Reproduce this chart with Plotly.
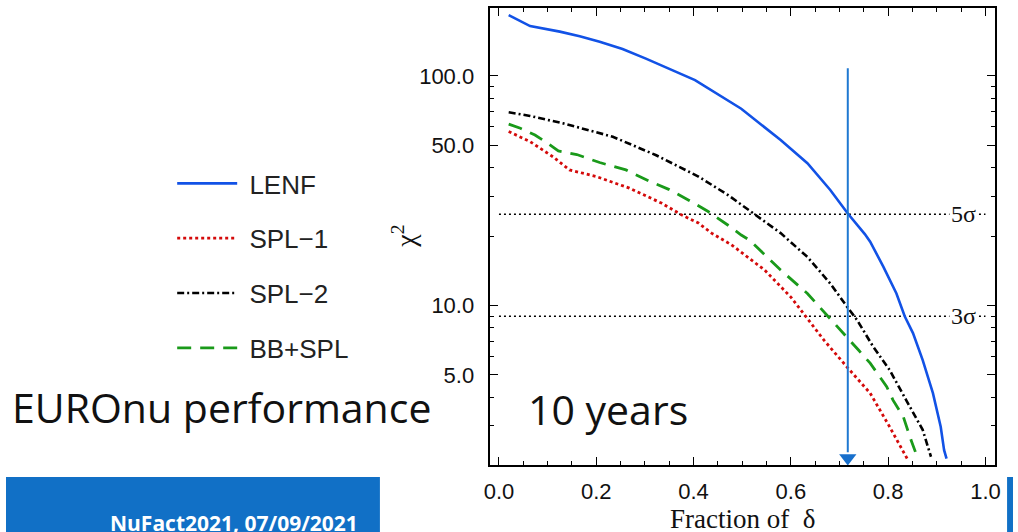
import numpy as np
import plotly.graph_objects as go

W, H = 1018, 532

# ---------------- data ----------------
lenf_x = [0.020, 0.064, 0.125, 0.166, 0.207, 0.254, 0.302, 0.349, 0.403, 0.498,
          0.579, 0.634, 0.681, 0.717, 0.742, 0.752, 0.763, 0.790, 0.817, 0.834,
          0.851, 0.871, 0.892, 0.908, 0.915, 0.920]
lenf_y = [184, 165, 156, 149, 141, 131, 119, 108, 96, 72,
          52.6, 41.7, 31.9, 25.2, 21.8, 20.5, 19.0, 14.8, 11.3, 9.0,
          7.6, 5.8, 4.16, 2.97, 2.35, 2.16]

spl1_x = [0.020, 0.064, 0.111, 0.145, 0.200, 0.268, 0.335, 0.376, 0.410, 0.437,
          0.478, 0.529, 0.546, 0.600, 0.630, 0.668, 0.715, 0.763, 0.803, 0.839]
spl1_y = [57.3, 51.8, 44.5, 39.0, 36.5, 32.5, 27.9, 24.8, 22.9, 20.7,
          18.4, 15.3, 14.3, 10.9, 9.0, 7.08, 5.42, 4.16, 2.97, 2.16]

spl2_x = [0.020, 0.064, 0.132, 0.234, 0.322, 0.369, 0.410, 0.471, 0.527, 0.579,
          0.634, 0.681, 0.715, 0.736, 0.769, 0.803, 0.837, 0.871, 0.888]
spl2_y = [69.5, 67.0, 62.2, 54.4, 45.3, 40.3, 36.5, 30.3, 24.9, 20.7,
          16.3, 12.5, 9.93, 8.67, 6.64, 5.25, 3.88, 2.88, 2.2]

bbspl_x = [0.020, 0.044, 0.074, 0.095, 0.122, 0.160, 0.207, 0.261, 0.308, 0.349,
           0.390, 0.430, 0.471, 0.498, 0.515, 0.579, 0.634, 0.678, 0.715, 0.739,
           0.763, 0.797, 0.810, 0.831, 0.847, 0.856]
bbspl_y = [61.7, 59.2, 55.3, 51.8, 47.2, 45.5, 42.0, 39.0, 34.9, 32.1,
           28.8, 25.7, 22.4, 20.3, 19.3, 14.3, 11.3, 8.95, 7.33, 6.41,
           5.62, 4.44, 3.88, 3.29, 2.60, 2.31]

series_names = ["LENF", "SPL\u22121", "SPL\u22122", "BB+SPL"]

sigma_levels = [25, 9]
sigma_labels = ["5\u03c3", "3\u03c3"]
sigma_x_range = [0.0, 1.0]

arrow_x = 0.717
arrow_y = [108, 2.3]
arrow_head_y = 2.17

x_tickvals = [0.0, 0.2, 0.4, 0.6, 0.8, 1.0]
x_ticktext = ["0.0", "0.2", "0.4", "0.6", "0.8", "1.0"]
y_tickvals = [5, 10, 50, 100]
y_ticktext = ["5.0", "10.0", "50.0", "100.0"]
y_minorvals = [2, 3, 4, 6, 7, 8, 9, 20, 30, 40, 60, 70, 80, 90]

# ---------------- layout helpers (pixels -> paper) ----------------
PL, PR, PT, PB = 489, 1000, 8, 465


def px(x):
    return x / W


def py(y):
    return 1 - y / H


fig = go.Figure()

# sigma reference lines
for lvl in sigma_levels:
    fig.add_trace(go.Scatter(
        x=sigma_x_range, y=[lvl, lvl], mode="lines",
        line=dict(color="black", width=1.6, dash="2px,3px"),
        showlegend=False, hoverinfo="skip"))

styles = [
    dict(color="#1252e6", width=2.6, dash="solid"),
    dict(color="#d40a0a", width=2.8, dash="3px,3px"),
    dict(color="#000000", width=2.6, dash="7px,3px,2px,3px"),
    dict(color="#1a9a1a", width=2.8, dash="14px,9px"),
]
data = [(lenf_x, lenf_y), (spl1_x, spl1_y), (spl2_x, spl2_y), (bbspl_x, bbspl_y)]
for i, ((xs, ys), name, st) in enumerate(zip(data, series_names, styles)):
    fig.add_trace(go.Scatter(
        x=xs, y=ys, mode="lines", name=" " + name, line=st,
        legendgroup=name, legendrank=i + 1))

# vertical arrow
fig.add_trace(go.Scatter(
    x=[arrow_x, arrow_x], y=arrow_y, mode="lines",
    line=dict(color="#1f78d1", width=2), showlegend=False, hoverinfo="skip"))
fig.add_trace(go.Scatter(
    x=[arrow_x], y=[arrow_head_y], mode="markers",
    marker=dict(symbol="triangle-down", size=15, color="#176fcc"),
    showlegend=False, hoverinfo="skip", cliponaxis=False))

tickfont = dict(family="Liberation Sans, Arial", size=22, color="#111")

fig.update_layout(
    width=W, height=H, autosize=False,
    margin=dict(l=0, r=0, t=0, b=0),
    paper_bgcolor="white", plot_bgcolor="white",
    xaxis=dict(
        domain=[px(PL), px(PR)], range=[-0.019, 1.02],
        tickvals=x_tickvals, ticktext=x_ticktext, tickfont=tickfont,
        ticks="inside", ticklen=8, tickwidth=1.2, tickcolor="black",
        ticklabelstandoff=5,
        showline=True, linecolor="black", linewidth=2.2, mirror="allticks",
        showgrid=False, zeroline=False,
        minor=dict(dtick=0.05, ticks="inside", ticklen=4, tickwidth=1, tickcolor="black"),
    ),
    yaxis=dict(
        domain=[py(PB), py(PT)], type="log", range=[0.3065, 2.296],
        tickvals=y_tickvals, ticktext=y_ticktext, tickfont=tickfont,
        ticks="inside", ticklen=8, tickwidth=1.2, tickcolor="black",
        ticklabelstandoff=9,
        showline=True, linecolor="black", linewidth=2.2, mirror="allticks",
        showgrid=False, zeroline=False,
        minor=dict(tickmode="array", tickvals=y_minorvals, ticks="inside",
                   ticklen=4, tickwidth=1, tickcolor="black"),
    ),
    showlegend=True,
    legend=dict(
        x=px(168), y=py(160), xanchor="left", yanchor="top",
        font=dict(family="Liberation Sans, Arial", size=26, color="#222"),
        bgcolor="rgba(0,0,0,0)", tracegroupgap=18, itemwidth=60,
        traceorder="grouped",
    ),
)

serif = "Liberation Serif, Times New Roman, serif"
ann = []
for lvl, lab in zip(sigma_levels, sigma_labels):
    ann.append(dict(xref="x", yref="y", x=0.955, y=np.log10(lvl), text=lab,
                    xanchor="center", yanchor="middle",
                    showarrow=False, bgcolor="white", borderpad=1,
                    font=dict(family=serif, size=24, color="#111")))
ann += [
    dict(xref="paper", yref="paper", x=px(403), y=py(236), text="\u03c7<sup>2</sup>",
         xanchor="center", yanchor="middle",
         textangle=-90, showarrow=False, font=dict(family=serif, size=28, color="#111")),
    dict(xref="paper", yref="paper", x=px(745), y=py(519), text="Fraction of  \u03b4",
         xanchor="center", yanchor="middle",
         showarrow=False, font=dict(family=serif, size=27, color="#111")),
    dict(xref="paper", yref="paper", x=px(4), y=py(407), xanchor="left", yanchor="middle",
         text="EUROnu performance", showarrow=False,
         font=dict(family="Open Sans", size=41, color="#111")),
    dict(xref="paper", yref="paper", x=px(526), y=py(409), xanchor="left", yanchor="middle",
         text="10 years", showarrow=False,
         font=dict(family="Open Sans", size=41, color="#111")),
    dict(xref="paper", yref="paper", x=px(358), y=py(507), xanchor="right", yanchor="top",
         text="<b>NuFact2021, 07/09/2021</b>", showarrow=False,
         font=dict(family="Open Sans", size=21, color="white")),
]
fig.update_layout(annotations=ann)

fig.update_layout(shapes=[
    dict(type="rect", xref="paper", yref="paper", x0=0, x1=px(378), y0=0, y1=py(477),
         fillcolor="#1170c6", line=dict(width=0), layer="below"),
    dict(type="rect", xref="paper", yref="paper", x0=px(1012), x1=1, y0=0, y1=py(477),
         fillcolor="#1170c6", line=dict(width=0), layer="below"),
])

fig.write_html("out.html")
